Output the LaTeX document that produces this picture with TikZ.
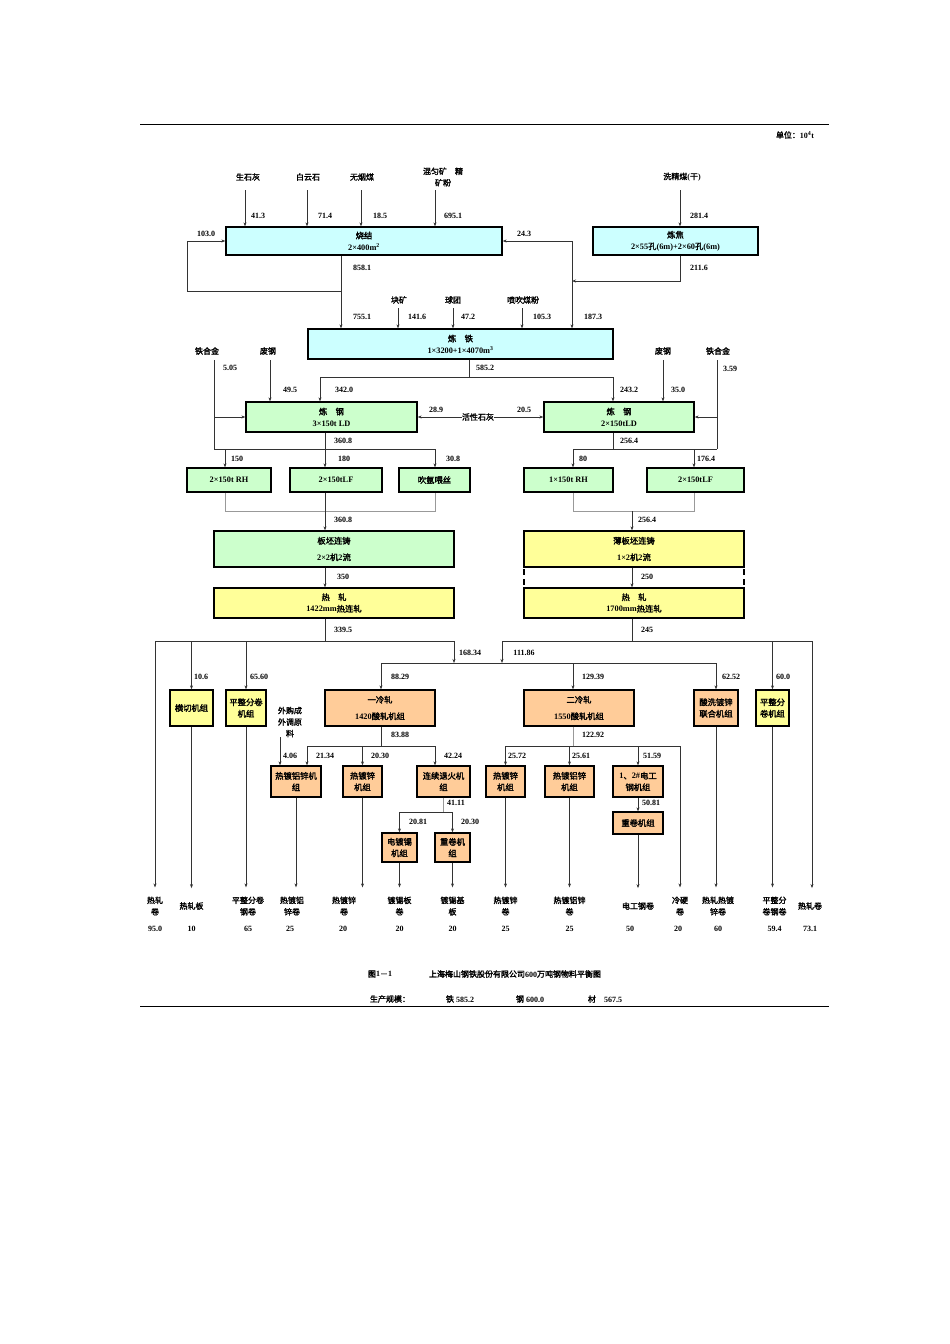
\documentclass[tikz,border=0pt]{standalone}
\usepackage{fontspec}
\setmainfont{Liberation Serif}
\newfontfamily\cj{Noto Sans CJK SC}[AutoFakeBold=2]
\usetikzlibrary{arrows.meta}
\XeTeXinterchartokenstate=1
\newXeTeXintercharclass\CJKcls
\count255="4E00
\loop\XeTeXcharclass\count255=\CJKcls\ifnum\count255<"9FFF\advance\count255 by 1\repeat
\XeTeXcharclass"3001=\CJKcls
\XeTeXcharclass"3002=\CJKcls
\XeTeXcharclass"FF08=\CJKcls
\XeTeXcharclass"FF09=\CJKcls
\XeTeXcharclass"FF0C=\CJKcls
\XeTeXcharclass"FF1A=\CJKcls
\XeTeXcharclass"FF0D=\CJKcls
\XeTeXinterchartoks 0 \CJKcls={\cj}
\XeTeXinterchartoks 4095 \CJKcls={\cj}
\XeTeXinterchartoks \CJKcls 0={\rmfamily}
\XeTeXinterchartoks \CJKcls 4095={\rmfamily}
\definecolor{cy}{HTML}{CCFFFF}
\definecolor{gn}{HTML}{CCFFCC}
\definecolor{yl}{HTML}{FFFF99}
\definecolor{og}{HTML}{FFCC99}
\newcommand\Bx[7]{\node[box,fill=#6,minimum width={(#4-#2)*1pt},minimum height={(#5-#3)*1pt}] (#1) at ({(#2+#4)/2},{(#3+#5)/2}) {#7};}
\newcommand\Lb[3]{\node[lab] at (#1,#2) {#3};}
\begin{document}
\begin{tikzpicture}[x=1pt,y=-1pt,
 box/.style={draw=black,line width=1.3pt,inner sep=0pt,align=center,font=\bfseries\fontsize{8.3}{11.5}\selectfont},
 arr/.style={-{Stealth[length=4pt,width=3pt]},line width=0.6pt,draw=black!80},
 ln/.style={line width=0.6pt,draw=black!80},
 gry/.style={line width=0.6pt,draw=black!40},
 lab/.style={inner sep=0pt,align=center,font=\bfseries\fontsize{8}{11.5}\selectfont},
 pa/.style={arr,shorten >=9pt},
 pb/.style={arr,shorten >=14pt}]
\useasboundingbox (0,0) rectangle (950,1344);
\draw[line width=0.8pt] (140,124)--(829,124);
\draw[line width=0.8pt] (140,1006)--(829,1006);
\Lb{795}{135}{单位：10\textsuperscript{4}t}
% sinter
\Bx{sj}{226}{227}{502}{255}{cy}{烧结\\2×400m\textsuperscript{2}}
\Bx{lj}{593}{227}{758}{255}{cy}{炼焦\\2×55孔(6m)+2×60孔(6m)}
\node[lab] (i1) at (248,177) {生石灰};
\node[lab] (i2) at (308,177) {白云石};
\node[lab] (i3) at (362,177) {无烟煤};
\node[lab] (i4) at (443,177) {混匀矿\quad 精\\矿粉};
\node[lab] (i5) at (682,177) {洗精煤(干)};
\draw[arr] (245,190)--(245,0|-sj.north);
\draw[arr] (307,190)--(307,0|-sj.north);
\draw[arr] (361,190)--(361,0|-sj.north);
\draw[arr] (435,190)--(435,0|-sj.north);
\draw[arr] (680,190)--(680,0|-lj.north);
\Lb{258}{216}{41.3}\Lb{325}{216}{71.4}\Lb{380}{216}{18.5}\Lb{453}{216}{695.1}\Lb{699}{216}{281.4}
\Bx{lt}{308}{329}{613}{359}{cy}{炼\quad 铁\\1×3200+1×4070m\textsuperscript{3}}
\draw[arr] (341,291) -| (187,241) -- (sj.west);
\draw[arr] (341,0|-sj.south)--(341,0|-lt.north);
\draw[arr] (572,241)--(sj.east);
\draw[arr] (572,241)--(572,0|-lt.north);
\draw[arr] (680,0|-lj.south) |- (572,281);
\Lb{206}{234}{103.0}\Lb{524}{234}{24.3}\Lb{362}{268}{858.1}\Lb{699}{268}{211.6}
\Lb{362}{317}{755.1}\Lb{593}{317}{187.3}
\node[lab] (k1) at (399,300) {块矿};
\node[lab] (k2) at (453,300) {球团};
\node[lab] (k3) at (523,300) {喷吹煤粉};
\draw[arr] (398,308)--(398,0|-lt.north);
\draw[arr] (453,308)--(453,0|-lt.north);
\draw[arr] (522,308)--(522,0|-lt.north);
\Lb{417}{317}{141.6}\Lb{468}{317}{47.2}\Lb{542}{317}{105.3}
% steel
\Bx{gl}{246}{402}{417}{432}{gn}{炼\quad 钢\\3×150t LD}
\Bx{gr}{544}{402}{694}{432}{gn}{炼\quad 钢\\2×150tLD}
\draw[ln] (469,0|-lt.south)--(469,377);
\draw[ln] (320,377)--(613,377);
\draw[arr] (320,377)--(320,0|-gl.north);
\draw[arr] (613,377)--(613,0|-gr.north);
\Lb{485}{368}{585.2}\Lb{344}{390}{342.0}\Lb{629}{390}{243.2}
\node[lab] (f1) at (207,351) {铁合金};
\node[lab] (f2) at (268,351) {废钢};
\node[lab] (f3) at (663,351) {废钢};
\node[lab] (f4) at (718,351) {铁合金};
\draw[arr] (270,360)--(270,0|-gl.north);
\draw[arr] (663,360)--(663,0|-gr.north);
\draw[ln] (214,360)--(214,449);
\draw[arr] (214,417)--(gl.west);
\draw[ln] (717,360)--(717,449);
\draw[arr] (717,417)--(gr.east);
\Lb{230}{368}{5.05}\Lb{290}{390}{49.5}\Lb{678}{390}{35.0}\Lb{730}{369}{3.59}
\node[lab] (hs) at (478,417) {活性石灰};
\draw[arr] (hs.west)--(gl.east);
\draw[arr] (hs.east)--(gr.west);
\Lb{436}{410}{28.9}\Lb{524}{410}{20.5}
% refining
\Bx{rh1}{187}{468}{271}{492}{gn}{2×150t RH}
\Bx{lf1}{290}{468}{382}{492}{gn}{2×150tLF}
\Bx{cq}{399}{468}{470}{492}{gn}{吹氩喂丝}
\Bx{rh2}{524}{468}{613}{492}{gn}{1×150t RH}
\Bx{lf2}{647}{468}{744}{492}{gn}{2×150tLF}
\draw[ln] (325,0|-gl.south)--(325,449);
\draw[ln] (214,449)--(435,449);
\draw[arr] (225,449)--(225,0|-rh1.north);
\draw[arr] (325,449)--(325,0|-lf1.north);
\draw[arr] (435,449)--(435,0|-cq.north);
\draw[ln] (613,0|-gr.south)--(613,449);
\draw[ln] (573,449)--(717,449);
\draw[arr] (573,449)--(573,0|-rh2.north);
\draw[arr] (694,449)--(694,0|-lf2.north);
\Lb{343}{441}{360.8}\Lb{237}{459}{150}\Lb{344}{459}{180}\Lb{453}{459}{30.8}
\Lb{629}{441}{256.4}\Lb{583}{459}{80}\Lb{706}{459}{176.4}
% casting
\Bx{bp}{214}{531}{454}{567}{gn}{板坯连铸\\[5pt]2×2机2流}
\Bx{bb}{524}{531}{744}{567}{yl}{薄板坯连铸\\[5pt]1×2机2流}
\draw[gry] (225,0|-rh1.south) |- (435,511) -- (435,0|-cq.south);
\draw[arr] (325,0|-lf1.south)--(325,0|-bp.north);
\draw[gry] (573,0|-rh2.south) |- (694,511) -- (694,0|-lf2.south);
\draw[arr] (632,511)--(632,0|-bb.north);
\Lb{343}{520}{360.8}\Lb{647}{520}{256.4}
\Bx{rz1}{214}{588}{454}{618}{yl}{热\quad 轧\\1422mm热连轧}
\Bx{rz2}{524}{588}{744}{618}{yl}{热\quad 轧\\1700mm热连轧}
\draw[arr] (325,0|-bp.south)--(325,0|-rz1.north);
\draw[arr] (632,0|-bb.south)--(632,0|-rz2.north);
\draw[line width=1.2pt,dash pattern=on 6pt off 4pt] (524,569)--(524,587) (744,569)--(744,587);
\Lb{343}{577}{350}\Lb{647}{577}{250}\Lb{343}{630}{339.5}\Lb{647}{630}{245}
% distribution
\draw[ln] (325,0|-rz1.south)--(325,641);
\draw[ln] (155,641)--(454,641);
\draw[ln] (632,0|-rz2.south)--(632,641);
\draw[ln] (502,641)--(812,641);
\draw[arr] (454,641)--(454,663);
\draw[arr] (502,641)--(502,663);
\draw[ln] (381,663)--(717,663);
\Lb{470}{653}{168.34}\Lb{524}{653}{111.86}
\Bx{hq}{170}{690}{213}{726}{yl}{横切机组}
\Bx{pz1}{226}{690}{266}{726}{yl}{平整分卷\\机组}
\Bx{lz1}{325}{690}{435}{726}{og}{一冷轧\\[5pt]1420酸轧机组}
\Bx{lz2}{524}{690}{634}{726}{og}{二冷轧\\[5pt]1550酸轧机组}
\Bx{sx}{694}{690}{738}{726}{og}{酸洗镀锌\\联合机组}
\Bx{pz2}{756}{690}{789}{726}{yl}{平整分\\卷机组}
\draw[arr] (191.5,641)--(hq.north);
\draw[arr] (246,641)--(pz1.north);
\draw[arr] (381,663)--(381,0|-lz1.north);
\draw[arr] (573,663)--(573,0|-lz2.north);
\draw[arr] (716,663)--(sx.north);
\draw[arr] (772.5,641)--(pz2.north);
\Lb{201}{677}{10.6}\Lb{259}{677}{65.60}\Lb{400}{677}{88.29}\Lb{593}{677}{129.39}\Lb{731}{677}{62.52}\Lb{783}{677}{60.0}
\node[lab] (wg) at (290,722) {外购成\\外调原\\料};
% cold rolling 1
\Bx{a1}{271}{766}{321}{797}{og}{热镀铝锌机\\组}
\Bx{a2}{343}{766}{382}{797}{og}{热镀锌\\机组}
\Bx{a3}{417}{766}{470}{797}{og}{连续退火机\\组}
\draw[ln] (381,0|-lz1.south)--(381,746);
\draw[ln] (307,746)--(435,746);
\draw[arr] (307,746)--(307,0|-a1.north);
\draw[arr] (362.5,746)--(a2.north);
\draw[arr] (435,746)--(435,0|-a3.north);
\draw[arr] (wg.south -| 280,0)--(280,0|-a1.north);
\Lb{400}{735}{83.88}\Lb{290}{756}{4.06}\Lb{325}{756}{21.34}\Lb{380}{756}{20.30}\Lb{453}{756}{42.24}
\Bx{dx}{382}{833}{417}{862}{og}{电镀锡\\机组}
\Bx{cjz}{435}{833}{470}{862}{og}{重卷机\\组}
\draw[gry] (443,0|-a3.south)--(443,812);
\draw[ln] (399.5,812)--(452.5,812);
\draw[arr] (399.5,812)--(dx.north);
\draw[arr] (452.5,812)--(cjz.north);
\Lb{456}{803}{41.11}\Lb{418}{822}{20.81}\Lb{470}{822}{20.30}
% cold rolling 2
\Bx{b1}{486}{766}{525}{797}{og}{热镀锌\\机组}
\Bx{b2}{545}{766}{594}{797}{og}{热镀铝锌\\机组}
\Bx{b3}{613}{766}{663}{797}{og}{1、2\#电工\\钢机组}
\Bx{cj2}{613}{812}{663}{834}{og}{重卷机组}
\draw[gry] (573,0|-lz2.south)--(573,746);
\draw[ln] (505.5,746)--(680,746);
\draw[arr] (505.5,746)--(b1.north);
\draw[arr] (569.5,746)--(b2.north);
\draw[arr] (638,746)--(b3.north);
\draw[arr] (b3.south)--(cj2.north);
\Lb{593}{735}{122.92}\Lb{517}{756}{25.72}\Lb{581}{756}{25.61}\Lb{652}{756}{51.59}\Lb{651}{803}{50.81}
% products
\node[lab] (q1) at (155,906) {热轧\\卷};
\node[lab] (q2) at (191.5,906) {热轧板};
\node[lab] (q3) at (248,906) {平整分卷\\钢卷};
\node[lab] (q4) at (292,906) {热镀铝\\锌卷};
\node[lab] (q5) at (344,906) {热镀锌\\卷};
\node[lab] (q6) at (399.5,906) {镀锡板\\卷};
\node[lab] (q7) at (452.5,906) {镀锡基\\板};
\node[lab] (q8) at (505.5,906) {热镀锌\\卷};
\node[lab] (q9) at (569.5,906) {热镀铝锌\\卷};
\node[lab] (q10) at (638,906) {电工钢卷};
\node[lab] (q11) at (680,906) {冷硬\\卷};
\node[lab] (q12) at (718,906) {热轧热镀\\锌卷};
\node[lab] (q13) at (774.5,906) {平整分\\卷钢卷};
\node[lab] (q14) at (810,906) {热轧卷};
\draw[pa] (155,641)--(q1.north);
\draw[pb] (hq.south)--(q2.north);
\draw[pa] (pz1.south)--(pz1.south|-q3.north);
\draw[pa] (a1.south)--(a1.south|-q4.north);
\draw[pa] (a2.south)--(a2.south|-q5.north);
\draw[pa] (dx.south)--(q6.north);
\draw[pa] (cjz.south)--(q7.north);
\draw[pa] (b1.south)--(q8.north);
\draw[pa] (b2.south)--(q9.north);
\draw[pb] (cj2.south)--(q10.north);
\draw[pa] (680,746)--(q11.north);
\draw[pa] (sx.south)--(sx.south|-q12.north);
\draw[pa] (pz2.south)--(pz2.south|-q13.north);
\draw[pb] (812,641)--(812,0|-q14.north);
\Lb{155}{929}{95.0}\Lb{191.5}{929}{10}\Lb{248}{929}{65}\Lb{290}{929}{25}\Lb{343}{929}{20}\Lb{399.5}{929}{20}\Lb{452.5}{929}{20}\Lb{505.5}{929}{25}\Lb{569.5}{929}{25}\Lb{630}{929}{50}\Lb{678}{929}{20}\Lb{718}{929}{60}\Lb{774.5}{929}{59.4}\Lb{810}{929}{73.1}
% caption
\Lb{380}{974}{图1－1}
\Lb{515}{974}{上海梅山钢铁股份有限公司600万吨钢物料平衡图}
\Lb{390}{999}{生产规模：}
\Lb{460}{999}{铁 585.2}
\Lb{530}{999}{钢 600.0}
\Lb{605}{999}{材\quad 567.5}
\end{tikzpicture}
\end{document}
